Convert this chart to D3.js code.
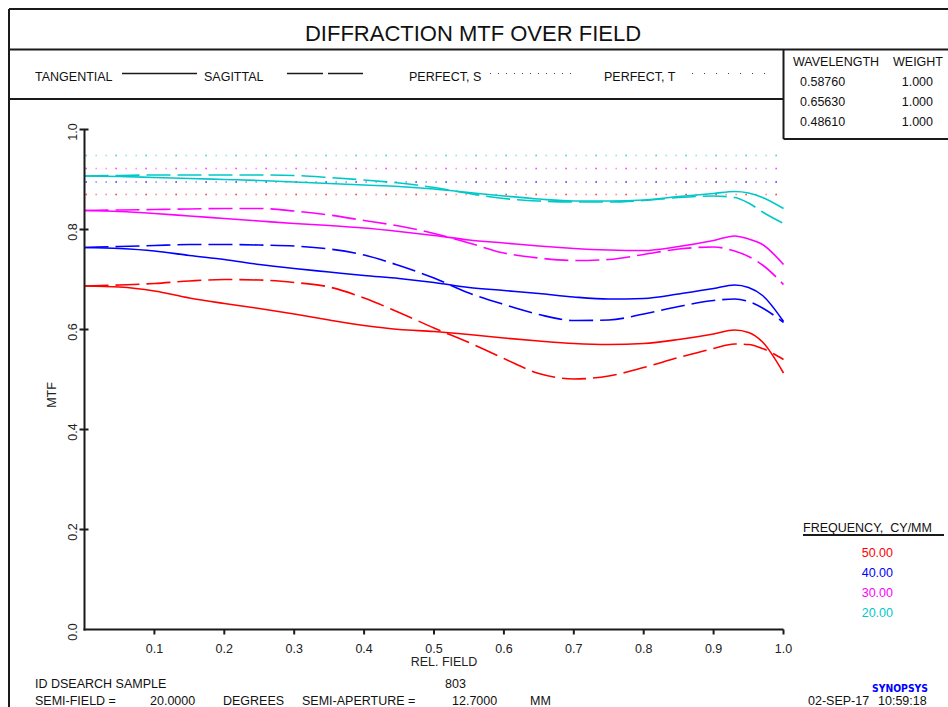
<!DOCTYPE html>
<html><head><meta charset="utf-8">
<script src="https://cdn.jsdelivr.net/npm/d3@7"></script>
<style>
html,body{margin:0;padding:0;background:#fff;}
svg{display:block;font-family:"Liberation Sans",Arial,sans-serif;}
svg text{white-space:pre;}
</style></head>
<body>
<svg id="chart" width="948" height="707"></svg>
<script>
// ---- data ----
const fields = [0,0.05,0.1,0.15,0.2,0.25,0.3,0.35,0.4,0.45,0.5,0.55,0.6,0.65,0.7,0.75,0.8,0.85,0.9,0.93,0.95,0.97,1.0];
const frequencies = ["50.00","40.00","30.00","20.00"];
const colors = ["#ff0000","#0000ff","#ff00ff","#00c8c8"];
const tan50 = [0.687,0.685,0.677,0.663,0.652,0.642,0.631,0.619,0.608,0.600,0.596,0.590,0.583,0.577,0.572,0.570,0.572,0.580,0.591,0.599,0.594,0.575,0.513];
const sag50 = [0.687,0.689,0.692,0.697,0.700,0.699,0.694,0.685,0.663,0.634,0.603,0.574,0.542,0.512,0.501,0.507,0.524,0.544,0.562,0.571,0.570,0.562,0.540];
const tan40 = [0.764,0.762,0.757,0.748,0.740,0.730,0.722,0.715,0.708,0.702,0.694,0.684,0.678,0.672,0.665,0.661,0.662,0.671,0.682,0.689,0.684,0.668,0.616];
const sag40 = [0.764,0.766,0.768,0.770,0.770,0.769,0.767,0.761,0.749,0.728,0.703,0.673,0.650,0.630,0.618,0.619,0.631,0.646,0.658,0.661,0.656,0.643,0.614];
const tan30 = [0.838,0.836,0.832,0.827,0.822,0.817,0.812,0.808,0.803,0.796,0.788,0.779,0.773,0.767,0.762,0.759,0.758,0.766,0.778,0.787,0.781,0.770,0.730];
const sag30 = [0.838,0.839,0.840,0.841,0.842,0.842,0.837,0.829,0.818,0.807,0.792,0.773,0.753,0.743,0.738,0.740,0.750,0.761,0.765,0.757,0.746,0.729,0.690];
const tan20 = [0.907,0.906,0.904,0.902,0.900,0.898,0.895,0.892,0.889,0.886,0.881,0.874,0.867,0.861,0.857,0.857,0.859,0.866,0.872,0.876,0.873,0.864,0.842];
const sag20 = [0.907,0.908,0.909,0.909,0.909,0.909,0.908,0.904,0.899,0.893,0.884,0.872,0.862,0.857,0.855,0.855,0.858,0.864,0.867,0.864,0.853,0.835,0.812];
const perfectS = [0.870,0.895,0.922,0.948];
const perfectT = [0.870,0.895,0.922,0.948];
const xTicks = [0.1,0.2,0.3,0.4,0.5,0.6,0.7,0.8,0.9,1.0];
const yTicks = [0.0,0.2,0.4,0.6,0.8,1.0];
const wavelengths = ["0.58760","0.65630","0.48610"];
const weights = ["1.000","1.000","1.000"];

const tangential = [tan50,tan40,tan30,tan20];
const sagittal = [sag50,sag40,sag30,sag20];

// ---- drawing ----
const svg = d3.select("#chart");
const ink = "#1a1a1a";
const x = d3.scaleLinear().domain([0,1]).range([84.5,783.5]);
const y = d3.scaleLinear().domain([0,1]).range([629.5,129.5]);

// frame lines
const frame = svg.append("g").attr("stroke",ink).attr("stroke-width",2).attr("fill","none");
frame.append("line").attr("x1",9).attr("x2",948).attr("y1",9).attr("y2",9);
frame.append("line").attr("x1",9).attr("x2",9).attr("y1",9).attr("y2",707);
frame.append("line").attr("x1",9).attr("x2",948).attr("y1",49.5).attr("y2",49.5);
frame.append("line").attr("x1",9).attr("x2",783.5).attr("y1",99).attr("y2",99);
frame.append("line").attr("x1",783.5).attr("x2",783.5).attr("y1",49.5).attr("y2",139);
frame.append("line").attr("x1",783.5).attr("x2",948).attr("y1",139).attr("y2",139);

// title
svg.append("text").attr("x",473).attr("y",41).attr("text-anchor","middle")
  .attr("font-size",22).attr("fill","#111").text("DIFFRACTION MTF OVER FIELD");

// header legend
const fs = 12.5;
const lg = svg.append("g").attr("font-size",fs).attr("fill","#111");
lg.append("text").attr("x",35).attr("y",81).text("TANGENTIAL");
svg.append("line").attr("x1",122).attr("x2",197).attr("y1",73.5).attr("y2",73.5).attr("stroke",ink).attr("stroke-width",1.6);
lg.append("text").attr("x",204).attr("y",81).text("SAGITTAL");
svg.append("line").attr("x1",287).attr("x2",363).attr("y1",73.5).attr("y2",73.5).attr("stroke",ink).attr("stroke-width",1.6).attr("stroke-dasharray","36,5");
lg.append("text").attr("x",409).attr("y",81).text("PERFECT, S");
svg.append("line").attr("x1",490).attr("x2",571).attr("y1",73.5).attr("y2",73.5).attr("stroke","#444").attr("stroke-width",1).attr("stroke-dasharray","1,7");
lg.append("text").attr("x",604).attr("y",81).text("PERFECT, T");
svg.append("line").attr("x1",692).attr("x2",765).attr("y1",73.5).attr("y2",73.5).attr("stroke","#444").attr("stroke-width",1).attr("stroke-dasharray","1,11");

// wavelength box
lg.append("text").attr("x",793).attr("y",66).text("WAVELENGTH");
lg.append("text").attr("x",943).attr("y",66).attr("text-anchor","end").text("WEIGHT");
wavelengths.forEach((w,i)=>{
  lg.append("text").attr("x",800).attr("y",86+i*20).text(w);
  lg.append("text").attr("x",933).attr("y",86+i*20).attr("text-anchor","end").text(weights[i]);
});

// perfect dotted lines
perfectS.forEach((v,i)=>{
  svg.append("line").attr("x1",x(0)+1).attr("x2",x(1)).attr("y1",y(v)).attr("y2",y(v))
    .attr("stroke",colors[i]).attr("stroke-width",1.3).attr("opacity",0.55).attr("stroke-dasharray","1.3,8.7");
});
perfectT.forEach((v,i)=>{
  svg.append("line").attr("x1",x(0)+1).attr("x2",x(1)).attr("y1",y(v)).attr("y2",y(v))
    .attr("stroke",colors[i]).attr("stroke-width",1.3).attr("opacity",0.6).attr("stroke-dasharray","1.3,28.7");
});

// curves
const line = d3.line().x(d=>x(d[0])).y(d=>y(d[1])).curve(d3.curveMonotoneX);
const curves = svg.append("g").attr("fill","none").attr("stroke-width",1.6);
tangential.forEach((s,i)=>{
  curves.append("path").attr("d",line(fields.map((f,j)=>[f,s[j]]))).attr("stroke",colors[i]);
});
sagittal.forEach((s,i)=>{
  curves.append("path").attr("d",line(fields.map((f,j)=>[f,s[j]]))).attr("stroke",colors[i]).attr("stroke-dasharray","24,7");
});

// axes
const ax = svg.append("g").attr("stroke",ink).attr("stroke-width",2);
ax.append("line").attr("x1",x(0)).attr("x2",x(0)).attr("y1",y(1)).attr("y2",y(0)+1);
ax.append("line").attr("x1",x(0)-1).attr("x2",x(1)).attr("y1",y(0)).attr("y2",y(0));
xTicks.forEach(t=>{
  ax.append("line").attr("x1",x(t)).attr("x2",x(t)).attr("y1",y(0)).attr("y2",y(0)+5);
});
yTicks.filter(t=>t>0).forEach(t=>{
  ax.append("line").attr("x1",x(0)-5).attr("x2",x(0)+4).attr("y1",y(t)).attr("y2",y(t));
});
const tl = svg.append("g").attr("font-size",fs).attr("fill","#222");
xTicks.forEach(t=>{
  tl.append("text").attr("x",x(t)).attr("y",653).attr("text-anchor","middle").text(t.toFixed(1));
});
yTicks.forEach(t=>{
  tl.append("text").attr("transform",`translate(77,${y(t)+2.5}) rotate(-90)`).attr("text-anchor","middle").text(t.toFixed(1));
});
tl.append("text").attr("x",444).attr("y",666).attr("text-anchor","middle").text("REL. FIELD");
tl.append("text").attr("transform","translate(56,395) rotate(-90)").attr("text-anchor","middle").text("MTF");

// frequency legend
const fl = svg.append("g").attr("font-size",fs);
fl.append("text").attr("x",803).attr("y",532).attr("fill","#111").text("FREQUENCY,  CY/MM");
svg.append("line").attr("x1",803).attr("x2",944).attr("y1",535).attr("y2",535).attr("stroke",ink).attr("stroke-width",2);
frequencies.forEach((f,i)=>{
  fl.append("text").attr("x",893).attr("y",557+i*20).attr("text-anchor","end").attr("fill",colors[i]).text(f);
});

// footer
const fb = 704.5;
const ft = svg.append("g").attr("font-size",fs).attr("fill","#111");
ft.append("text").attr("x",35).attr("y",688).text("ID DSEARCH SAMPLE");
ft.append("text").attr("x",445).attr("y",688).text("803");
ft.append("text").attr("x",35).attr("y",fb).text("SEMI-FIELD =");
ft.append("text").attr("x",150).attr("y",fb).text("20.0000");
ft.append("text").attr("x",223).attr("y",fb).text("DEGREES");
ft.append("text").attr("x",302).attr("y",fb).text("SEMI-APERTURE =");
ft.append("text").attr("x",452).attr("y",fb).text("12.7000");
ft.append("text").attr("x",530).attr("y",fb).text("MM");
ft.append("text").attr("x",808).attr("y",fb).text("02-SEP-17");
ft.append("text").attr("x",878).attr("y",fb).text("10:59:18");
svg.append("text").attr("x",872).attr("y",692).attr("font-size",11).attr("font-weight",900)
  .attr("font-family","'DejaVu Sans',sans-serif").attr("fill","#0000ff")
  .attr("textLength",56).attr("lengthAdjust","spacingAndGlyphs").text("SYNOPSYS");
</script>
</body></html>
